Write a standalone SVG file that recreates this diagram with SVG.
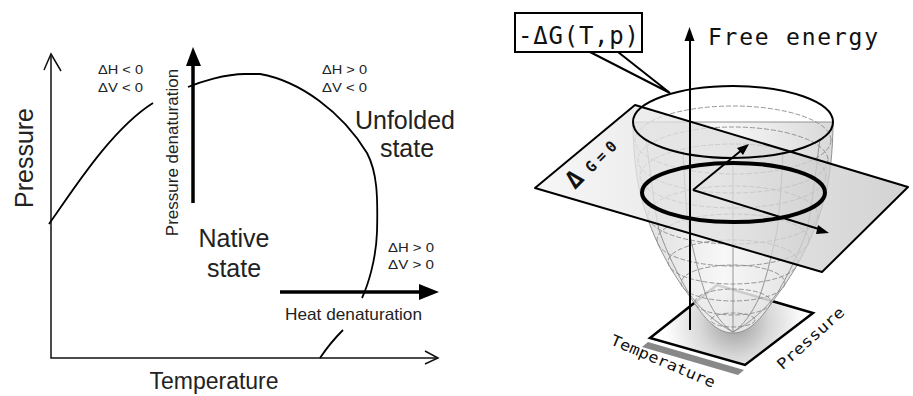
<svg xmlns="http://www.w3.org/2000/svg" width="913" height="396" viewBox="0 0 913 396">
<defs>
<style>
.ax{fill:none;stroke:#111;stroke-width:1.5}
.cv{fill:none;stroke:#000;stroke-width:1.8}
.big{font-family:"Liberation Sans",Arial,sans-serif;font-size:25px;fill:#222}
.sm{font-family:"Liberation Sans",Arial,sans-serif;font-size:13.5px;fill:#222}
.mono{font-family:"DejaVu Sans Mono","Liberation Mono",monospace;fill:#111}
.wire{fill:none;stroke:#8a8a8a;stroke-width:0.9;stroke-dasharray:5 2}
.mer{fill:none;stroke:#8a8a8a;stroke-width:0.9}
</style>
<linearGradient id="gPlane" x1="0" y1="0" x2="1" y2="0">
<stop offset="0" stop-color="#f4f4f4"/>
<stop offset="0.5" stop-color="#dedede"/>
<stop offset="1" stop-color="#c4c4c4"/>
</linearGradient>
<linearGradient id="gBowl" x1="0" y1="0" x2="1" y2="0">
<stop offset="0" stop-color="#d6d6d6"/>
<stop offset="0.45" stop-color="#f6f6f6"/>
<stop offset="1" stop-color="#d2d2d2"/>
</linearGradient>
<radialGradient id="gShadow" cx="735" cy="322" r="70" gradientUnits="userSpaceOnUse">
<stop offset="0" stop-color="#9a9a9a"/>
<stop offset="0.5" stop-color="#d8d8d8"/>
<stop offset="1" stop-color="#ffffff"/>
</radialGradient>
</defs>
<rect width="913" height="396" fill="#fff"/>

<!-- LEFT PANEL -->
<g id="left-axes">
<path class="ax" d="M51,54 L51,358 L438,358"/>
<path class="ax" d="M44,70 L51,54 L61,71"/>
<path class="ax" d="M425,351 L438,358 L425,364"/>
<text class="big" transform="translate(33,158) rotate(-90)" text-anchor="middle">Pressure</text>
<text class="big" style="font-size:23px" x="214" y="389" text-anchor="middle">Temperature</text>
</g>

<g id="phase-boundary">
<path class="cv" d="M49,224 C70,195 110,130 153,103"/>
<path class="cv" d="M188,87 C200,82 225,74 245,74 L260,74 C300,81 342,112 367,153 C377,172 378,195 377,232 C376,260 368,285 362,298"/>
<path class="cv" d="M343,330 Q330,343 320,358"/>
</g>

<g id="pressure-denaturation">
<line x1="193" y1="203" x2="193" y2="62" stroke="#000" stroke-width="3.5"/>
<polygon points="193,47 186,66 201,66" fill="#000"/>
<text class="big" style="font-size:17px" transform="translate(178,152.5) rotate(-90)" text-anchor="middle">Pressure denaturation</text>
</g>

<g id="heat-denaturation">
<line x1="280" y1="292" x2="422" y2="292" stroke="#000" stroke-width="3.5"/>
<polygon points="439,292 419,284 419,300" fill="#000"/>
<text class="big" style="font-size:16.5px" x="285" y="320" textLength="137" lengthAdjust="spacingAndGlyphs">Heat denaturation</text>
</g>

<g id="state-labels">
<text class="big" x="234" y="247" text-anchor="middle">Native</text>
<text class="big" x="234" y="277" text-anchor="middle">state</text>
<text class="big" x="405" y="129" text-anchor="middle">Unfolded</text>
<text class="big" x="407" y="157" text-anchor="middle">state</text>
</g>

<g id="thermo-labels">
<text class="sm" x="98" y="74" textLength="45" lengthAdjust="spacingAndGlyphs">ΔH &lt; 0</text>
<text class="sm" x="98" y="92" textLength="45" lengthAdjust="spacingAndGlyphs">ΔV &lt; 0</text>
<text class="sm" x="322" y="74" textLength="45" lengthAdjust="spacingAndGlyphs">ΔH &gt; 0</text>
<text class="sm" x="322" y="92" textLength="45" lengthAdjust="spacingAndGlyphs">ΔV &lt; 0</text>
<text class="sm" x="388" y="252" textLength="46" lengthAdjust="spacingAndGlyphs">ΔH &gt; 0</text>
<text class="sm" x="388" y="269" textLength="46" lengthAdjust="spacingAndGlyphs">ΔV &gt; 0</text>
</g>

<!-- RIGHT PANEL -->
<g id="base-square">
<polygon points="642,347 738,375 744,370 648,342" fill="#888"/>
<polygon points="717,285 813,313 745,365 650,338" fill="url(#gShadow)" stroke="#000" stroke-width="2.5"/>
<text class="mono" font-size="15" transform="translate(661,366) rotate(23)" text-anchor="middle" textLength="112" lengthAdjust="spacingAndGlyphs">Temperature</text>
<text class="mono" font-size="15" transform="translate(814,342) rotate(-42)" text-anchor="middle" textLength="85" lengthAdjust="spacingAndGlyphs">Pressure</text>
</g>

<g id="bowl">
<path d="M633,122 C633,150 636,180 642,200 C650,232 668,268 688,294 C702,314 714,333 733,333 C752,333 764,314 778,294 C798,268 816,232 824,200 C830,180 833,150 833,122 Z" fill="url(#gBowl)" fill-opacity="0.85" stroke="#888" stroke-width="0.9"/>
<ellipse class="wire" cx="733" cy="140" rx="98" ry="34"/>
<ellipse class="wire" cx="733" cy="160" rx="95" ry="33"/>
<ellipse class="wire" cx="733" cy="176" rx="93" ry="32"/>
<ellipse class="wire" cx="733" cy="215" rx="85" ry="29"/>
<ellipse class="wire" cx="733" cy="240" rx="76" ry="26"/>
<ellipse class="wire" cx="733" cy="262" rx="65" ry="22"/>
<ellipse class="wire" cx="733" cy="283" rx="52" ry="18"/>
<ellipse class="wire" cx="733" cy="302" rx="38" ry="13"/>
<ellipse class="wire" cx="733" cy="320" rx="22" ry="7"/>
<path class="mer" d="M733,156 L733,332"/>
<path class="mer" d="M783,151 C781,190 779,225 775,240 C770,262 765,282 759,298 C752,313 743,326 733,332"/>
<path class="mer" d="M683,151 C685,190 687,225 691,240 C696,262 701,282 707,298 C714,313 723,326 733,332"/>
<path class="mer" d="M820,139 C815,176 812,207 807,230 C799,253 789,273 778,292 C766,309 750,323 733,332"/>
<path class="mer" d="M646,139 C651,176 654,207 659,230 C667,253 677,273 688,292 C700,309 716,323 733,332"/>
</g>

<g id="free-energy-plane">
<polygon points="635,105 908,187 822,272 535,188" fill="url(#gPlane)" fill-opacity="0.75" stroke="#000" stroke-width="2" stroke-linejoin="round"/>
<text class="mono" font-weight="bold" transform="translate(575,190) rotate(-45)"><tspan font-size="24">Δ</tspan><tspan font-size="15" dx="9">G</tspan><tspan font-size="15" dx="5">=</tspan><tspan font-size="15" dx="5">0</tspan></text>
</g>

<g id="contours">
<ellipse cx="733" cy="122" rx="100" ry="36" fill="none" stroke="#000" stroke-width="2"/>
<ellipse cx="733.5" cy="192.5" rx="91.5" ry="29.5" fill="none" stroke="#000" stroke-width="4"/>
</g>

<g id="axes-3d">
<line x1="690" y1="330" x2="690" y2="38" stroke="#000" stroke-width="2"/>
<polygon points="689.5,27 684.5,41 694.5,41" fill="#000"/>
<text class="mono" font-size="23" x="708" y="45" textLength="170" lengthAdjust="spacing">Free energy</text>
<line x1="693" y1="190" x2="743" y2="149" stroke="#000" stroke-width="2"/>
<polygon points="749,144 737,148 743,155" fill="#000"/>
<line x1="693" y1="190" x2="822" y2="230" stroke="#000" stroke-width="2"/>
<polygon points="829,233 818,225 816,234" fill="#000"/>
</g>

<g id="callout">
<path d="M590,52 L670,93 L618,52" fill="none" stroke="#000" stroke-width="2"/>
<rect x="515" y="13" width="127" height="39" fill="#fff" stroke="#000" stroke-width="2"/>
<text class="mono" font-size="24" x="518" y="44" textLength="121" lengthAdjust="spacing">-ΔG(T,p)</text>
</g>
</svg>
